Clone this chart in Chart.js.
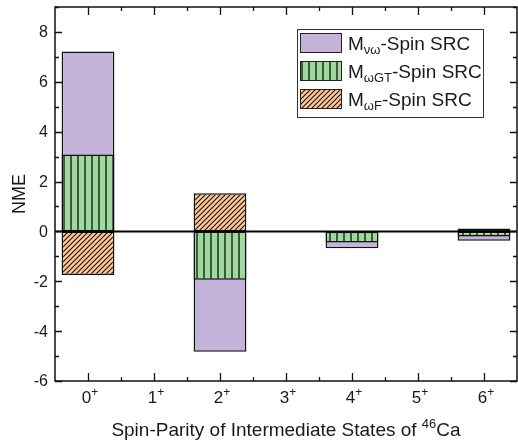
<!DOCTYPE html>
<html>
<head>
<meta charset="utf-8">
<script src="https://cdn.jsdelivr.net/npm/chart.js@4.4.1/dist/chart.umd.min.js"></script>
<style>
  html, body { margin: 0; padding: 0; background: #fff; }
  #wrap { width: 518px; height: 441px; }
</style>
</head>
<body>
<div id="wrap"><canvas id="nmeChart" width="518" height="441"></canvas></div>
<script>
// spin-parity of the intermediate states (all positive parity)
const spins = ['0', '1', '2', '3', '4', '5', '6'];
// NME contributions (no bars for odd spins)
const mNuOmega = [7.22, null, -4.83, null, -0.68, null, -0.38];
const mOmegaGT = [3.08, null, -1.94, null, -0.45, null, -0.20];
const mOmegaF  = [-1.75, null, 1.53, null, -0.07, null, 0.12];
const yTicks = [-6, -4, -2, 0, 2, 4, 6, 8];

const FONT = '"Liberation Sans", Arial, sans-serif';
const PURPLE = '#C3B3D8';
const GREEN = '#A0D99E';
const ORANGE = '#FFC896';

function makeStripes() {
  const c = document.createElement('canvas');
  c.width = 7; c.height = 7;
  const g = c.getContext('2d');
  g.fillStyle = GREEN; g.fillRect(0, 0, 7, 7);
  g.fillStyle = '#3e5a3e'; g.fillRect(0, 0, 2, 7);
  return g.createPattern(c, 'repeat');
}
function makeHatch() {
  const s = 5;
  const c = document.createElement('canvas');
  c.width = s; c.height = s;
  const g = c.getContext('2d');
  g.fillStyle = ORANGE; g.fillRect(0, 0, s, s);
  g.strokeStyle = '#1a1008'; g.lineWidth = 1.1;
  g.beginPath();
  g.moveTo(-1, s + 1); g.lineTo(s + 1, -1);
  g.moveTo(-1, 1); g.lineTo(1, -1);
  g.moveTo(s - 1, s + 1); g.lineTo(s + 1, s - 1);
  g.stroke();
  return g.createPattern(c, 'repeat');
}
const stripes = makeStripes();
const hatch = makeHatch();

// draw a run of text pieces, each with its own size and vertical shift
function richWidth(ctx, parts) {
  let w = 0;
  parts.forEach(p => { ctx.font = p.size + 'px ' + FONT; w += ctx.measureText(p.t).width; });
  return w;
}
function drawRich(ctx, parts, x, y, align) {
  let cx = x;
  if (align === 'center') cx = x - richWidth(ctx, parts) / 2;
  ctx.textAlign = 'left';
  ctx.textBaseline = 'alphabetic';
  parts.forEach(p => {
    ctx.font = p.size + 'px ' + FONT;
    ctx.fillText(p.t, cx, y + (p.dy || 0));
    cx += ctx.measureText(p.t).width;
  });
}

const axesPlugin = {
  id: 'originAxes',
  afterDatasetsDraw(chart) {
    const { ctx, chartArea: a, scales } = chart;
    const xs = scales.x, ys = scales.y;
    ctx.save();

    // zero line
    const y0 = ys.getPixelForValue(0);
    ctx.strokeStyle = '#000'; ctx.lineWidth = 2;
    ctx.beginPath(); ctx.moveTo(a.left, y0); ctx.lineTo(a.right, y0); ctx.stroke();

    // frame
    ctx.strokeStyle = '#111'; ctx.lineWidth = 1.5;
    ctx.strokeRect(a.left, a.top, a.right - a.left, a.bottom - a.top);

    // y ticks (inward, both sides)
    ctx.lineWidth = 1.3;
    for (let v = -6; v <= 9; v++) {
      const py = Math.round(ys.getPixelForValue(v)) + 0.5;
      const len = v % 2 === 0 ? 7 : 4;
      ctx.beginPath();
      ctx.moveTo(a.left, py); ctx.lineTo(a.left + len, py);
      ctx.moveTo(a.right, py); ctx.lineTo(a.right - len, py);
      ctx.stroke();
    }
    // x ticks (inward, top and bottom)
    for (let i = 0; i < spins.length; i++) {
      const px = Math.round(xs.getPixelForValue(i)) + 0.5;
      const half = Math.round((xs.getPixelForValue(i) + xs.getPixelForValue(i + 1)) / 2) + 0.5;
      ctx.beginPath();
      ctx.moveTo(px, a.bottom); ctx.lineTo(px, a.bottom - 8);
      ctx.moveTo(px, a.top); ctx.lineTo(px, a.top + 8);
      if (i < spins.length - 1) {
        ctx.moveTo(half, a.bottom); ctx.lineTo(half, a.bottom - 4);
        ctx.moveTo(half, a.top); ctx.lineTo(half, a.top + 4);
      }
      ctx.stroke();
    }

    ctx.fillStyle = '#1a1a1a';
    // y tick labels
    ctx.font = '16px ' + FONT;
    ctx.textAlign = 'right'; ctx.textBaseline = 'middle';
    yTicks.forEach(v => ctx.fillText(String(v), a.left - 7, ys.getPixelForValue(v) + 1));

    // x tick labels with superscript +
    spins.forEach((s, i) => {
      drawRich(ctx, [{ t: s, size: 17 }, { t: '+', size: 12, dy: -7 }], xs.getPixelForValue(i) + 2, 403, 'center');
    });

    // axis titles
    drawRich(ctx, [
      { t: 'Spin-Parity of Intermediate States of ', size: 19 },
      { t: '46', size: 13, dy: -8 },
      { t: 'Ca', size: 19 }
    ], (a.left + a.right) / 2, 436, 'center');
    ctx.save();
    ctx.translate(25, (a.top + a.bottom) / 2);
    ctx.rotate(-Math.PI / 2);
    ctx.font = '18px ' + FONT;
    ctx.textAlign = 'center'; ctx.textBaseline = 'alphabetic';
    ctx.fillText('NME', 0, 0);
    ctx.restore();

    // legend box
    ctx.strokeStyle = '#333'; ctx.lineWidth = 1;
    ctx.strokeRect(297.5, 29.5, 186, 88);
    const entries = [
      { fill: PURPLE, sub: 'νω' },
      { fill: stripes, sub: 'ωGT' },
      { fill: hatch, sub: 'ωF' }
    ];
    entries.forEach((e, k) => {
      const top = 33 + k * 28;
      ctx.fillStyle = e.fill;
      ctx.fillRect(300, top, 42, 20);
      ctx.strokeStyle = '#222'; ctx.lineWidth = 1;
      ctx.strokeRect(300.5, top + 0.5, 41, 19);
      ctx.fillStyle = '#1a1a1a';
      drawRich(ctx, [
        { t: 'M', size: 19 },
        { t: e.sub, size: 13, dy: 4 },
        { t: '-Spin SRC', size: 19 }
      ], 348, top + 17);
    });

    ctx.restore();
  }
};

const ctx = document.getElementById('nmeChart').getContext('2d');
new Chart(ctx, {
  type: 'bar',
  data: {
    labels: spins,
    datasets: [
      { label: 'M_ωF-Spin SRC', data: mOmegaF, backgroundColor: hatch, order: 0 },
      { label: 'M_ωGT-Spin SRC', data: mOmegaGT, backgroundColor: stripes, order: 1 },
      { label: 'M_νω-Spin SRC', data: mNuOmega, backgroundColor: PURPLE, order: 2 }
    ].map(d => Object.assign(d, {
      borderColor: '#111', borderWidth: 1.5, borderSkipped: false,
      grouped: false, categoryPercentage: 0.8, barPercentage: 1
    }))
  },
  options: {
    responsive: false,
    animation: false,
    layout: { padding: { left: 55, right: 1, top: 7, bottom: 60 } },
    plugins: { legend: { display: false }, tooltip: { enabled: false } },
    scales: {
      x: { display: false, offset: true },
      y: { display: false, min: -6, max: 9 }
    }
  },
  plugins: [axesPlugin]
});
</script>
</body>
</html>
